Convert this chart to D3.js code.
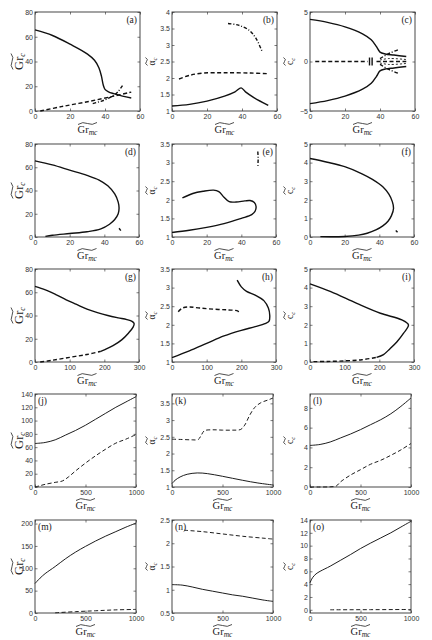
<!DOCTYPE html>
<html>
<head>
<meta charset="utf-8">
<title>stability panels</title>
<script src="https://d3js.org/d3.v7.min.js"></script>
<style>
  body { margin: 0; background: #fff; }
  .tick text { font-family: "Liberation Sans", Arial, sans-serif; font-size: 7px; fill: #333; }
</style>
</head>
<body>
<svg id="mainsvg" width="432" height="640"></svg>
<script>
// ---- data ----
const aSolid = [[0,65.5],[10,61],[20,54],[30,46],[34,41],[36.5,35],[38,28],[39,21],[40,17.5],[42,15.5],[45,14],[50,12],[55,10.5]];
const aDash = [[3,0],[15,3.5],[30,7.5],[45,12],[55,15.3]];
const aDashDot = [[33,6],[38,8],[43,11],[47,15],[50,20.5]];

const bSolid = [[0,1.15],[10,1.2],[20,1.3],[30,1.45],[36,1.58],[39.5,1.7],[42,1.58],[47,1.4],[55,1.17]];
const bDash = [[4,1.97],[10,2.08],[18,2.15],[30,2.16],[45,2.15],[55,2.13]];
const bDashDot = [[32,3.65],[38,3.6],[44,3.45],[48,3.2],[51.5,2.8]];

const cSolidUp = [[0,4.25],[10,3.95],[20,3.5],[30,2.8],[35,2.2],[38,1.5],[40,0.95],[43,0.76],[48,0.65],[55,0.5]];
const cSolidDn = cSolidUp.map(p => [p[0], -p[1]]);
const cDash = [[3,0],[33,0]];
const cDash2 = [[38,0],[55,0]];
const cDashUp = [[40,0.15],[45,0.3],[55,0.2]];
const cDashDn = cDashUp.map(p => [p[0], -p[1]]);
const cDotUp = [[40,0.3],[45,0.8],[50.5,1.2]];
const cDotDn = cDotUp.map(p => [p[0], -p[1]]);
const cMark1 = [[34,-0.4],[34,0.4]];
const cMark2 = [[35.5,-0.4],[35.5,0.4]];

const dSolid = [[0,65.5],[10,62],[20,57.5],[30,53],[37,49],[42,44],[46,37],[48,30],[48.5,25],[48,20],[46,15],[43,11],[38,7],[30,4.5],[20,3],[10,1.5],[6,0.5]];
const dMark = [[48.5,7.5],[49.5,5.5]];

const eSolid = [[6,2.05],[12,2.17],[18,2.23],[24,2.26],[27,2.22],[30,2.07],[33,1.95],[37,1.94],[42,1.97],[45,1.98],[47.5,1.93],[48.5,1.82],[48,1.7],[46,1.6],[40,1.5],[30,1.36],[20,1.26],[10,1.18],[0,1.12]];
const eMark = [[49.5,3.3],[49.7,3.1],[49.5,2.88]];

const fSolid = [[6,0.02],[20,0.03],[28,0.1],[33,0.2],[38,0.38],[42,0.6],[45,0.85],[47,1.15],[48.2,1.55],[47.5,1.9],[45.5,2.3],[42,2.7],[36,3.1],[30,3.4],[20,3.78],[10,4.02],[0,4.22]];
const fMark = [[49.5,0.35],[50.5,0.25]];

const gSolid = [[0,65],[30,62],[60,58],[90,53.5],[120,49.5],[150,45.5],[180,42.5],[210,40],[240,38],[265,36.5],[280,35],[286,33],[283,30],[270,25],[250,19],[225,14],[200,10.5],[188,9]];
const gDash = [[15,0],[50,1.5],[100,4],[150,6.5],[188,9]];

const hSolid = [[0,1.12],[50,1.3],[100,1.5],[150,1.7],[200,1.85],[240,1.95],[268,2.03],[280,2.1],[282,2.25],[278,2.45],[265,2.65],[240,2.8],[215,2.9],[200,3.02],[188,3.2]];
const hDash = [[18,2.35],[30,2.45],[50,2.48],[80,2.45],[120,2.42],[160,2.4],[190,2.37],[192,2.33]];

const iSolid = [[0,4.2],[60,3.78],[135,3.15],[203,2.62],[265,2.26],[284,1.99],[270,1.55],[251,1.09],[230,0.7],[212,0.4],[192,0.25]];
const iDash = [[10,0.02],[50,0.03],[100,0.06],[150,0.12],[192,0.25]];

const jSolid = [[0,65.5],[100,67],[200,71],[300,78],[400,85],[500,93],[600,102],[700,111],[800,120],[900,128],[1000,136]];
const jDash = [[0,0],[50,2],[100,4],[200,7],[270,9],[330,15],[400,24],[500,36],[600,47],[700,57],[800,66],[900,72],[1000,79]];

const kSolid = [[0,1.1],[30,1.2],[80,1.3],[150,1.38],[250,1.42],[350,1.4],[500,1.32],[700,1.2],[850,1.12],[1000,1.06]];
const kDash = [[0,2.43],[100,2.42],[200,2.41],[260,2.42],[290,2.55],[320,2.68],[400,2.71],[500,2.7],[600,2.7],[680,2.72],[720,2.85],[770,3.15],[820,3.38],[880,3.52],[950,3.6],[1000,3.66]];

const lSolid = [[0,4.2],[100,4.3],[200,4.55],[300,4.95],[400,5.35],[500,5.8],[600,6.3],[700,6.8],[800,7.4],[900,8.15],[1000,9.0]];
const lDash = [[0,0],[100,0],[200,0.02],[260,0.1],[300,0.5],[400,1.2],[500,1.75],[600,2.3],[700,2.7],[800,3.2],[900,3.75],[1000,4.4]];

const mSolid = [[0,66],[50,78],[100,88],[200,104],[300,121],[400,136],[500,149],[600,161],[700,172],[800,182],[900,192],[1000,201]];
const mDash = [[200,0.5],[400,3],[600,5],[800,7],[1000,8]];

const nSolid = [[0,1.11],[100,1.1],[200,1.06],[300,1.01],[400,0.97],[500,0.93],[600,0.89],[700,0.86],[800,0.82],[900,0.78],[1000,0.75]];
const nDash = [[120,2.28],[300,2.25],[500,2.2],[700,2.15],[900,2.11],[1000,2.09]];

const oSolid = [[0,4.2],[25,5.0],[60,5.6],[100,6.0],[200,6.8],[300,7.7],[400,8.6],[500,9.55],[600,10.4],[700,11.2],[800,12.0],[900,12.9],[1000,13.8]];
const oDash = [[200,0],[600,0.02],[1000,0.05]];

// tick values
const xTicks60 = [0,20,40,60];
const xTicks300 = [0,100,200,300];
const xTicks1000 = [0,500,1000];
const grTicks = [0,20,40,60,80];
const alphaTicks4 = [1,1.5,2,2.5,3,3.5,4];
const alphaTicks35 = [1,1.5,2,2.5,3,3.5];
const cTicks = [-5,0,5];
const cTicks5 = [0,1,2,3,4,5];
const jTicks = [0,20,40,60,80,100,120,140];
const lTicks = [0,2,4,6,8];
const mTicks = [0,50,100,150,200];
const nTicks = [0.5,1,1.5,2,2.5];
const oTicks = [0,2,4,6,8,10,12,14];

// ---- layout ----
const colLeft = [35, 172, 310];
const rowTop = [12, 144, 269, 394, 520];
const rowH = [99, 93, 93, 93, 93];
const rowW = [105, 104, 104, 101, 101];
const SERIF = '"Liberation Serif", "DejaVu Serif", "Times New Roman", serif';

const panels = [
  {id:'a', r:0, c:0, xd:[0,60], yd:[0,80], xt:xTicks60, yt:grTicks, yl:'Gr', s:[[aSolid,'s'],[aDash,'d'],[aDashDot,'dd']]},
  {id:'b', r:0, c:1, xd:[0,60], yd:[1,4], xt:xTicks60, yt:alphaTicks4, yl:'α', s:[[bSolid,'s'],[bDash,'d'],[bDashDot,'dd']]},
  {id:'c', r:0, c:2, xd:[0,60], yd:[-5,5], xt:xTicks60, yt:cTicks, yl:'c', s:[[cSolidUp,'s'],[cSolidDn,'s'],[cDash,'d'],[cDash2,'d'],[cDashUp,'dt'],[cDashDn,'dt'],[cDotUp,'dd'],[cDotDn,'dd'],[cMark1,'s'],[cMark2,'s']]},
  {id:'d', r:1, c:0, xd:[0,60], yd:[0,80], xt:xTicks60, yt:grTicks, yl:'Gr', s:[[dSolid,'s'],[dMark,'s']]},
  {id:'e', r:1, c:1, xd:[0,60], yd:[1,3.5], xt:xTicks60, yt:alphaTicks35, yl:'α', s:[[eSolid,'s'],[eMark,'dd']]},
  {id:'f', r:1, c:2, xd:[0,60], yd:[0,5], xt:xTicks60, yt:cTicks5, yl:'c', s:[[fSolid,'s'],[fMark,'s']]},
  {id:'g', r:2, c:0, xd:[0,300], yd:[0,80], xt:xTicks300, yt:grTicks, yl:'Gr', s:[[gSolid,'s'],[gDash,'d']]},
  {id:'h', r:2, c:1, xd:[0,300], yd:[1,3.5], xt:xTicks300, yt:alphaTicks35, yl:'α', s:[[hSolid,'s'],[hDash,'d']]},
  {id:'i', r:2, c:2, xd:[0,300], yd:[0,5], xt:xTicks300, yt:cTicks5, yl:'c', s:[[iSolid,'s'],[iDash,'d']]},
  {id:'j', r:3, c:0, xd:[0,1000], yd:[0,140], xt:xTicks1000, yt:jTicks, yl:'Gr', s:[[jSolid,'s'],[jDash,'d']]},
  {id:'k', r:3, c:1, xd:[0,1000], yd:[1,3.78], xt:xTicks1000, yt:alphaTicks35, yl:'α', s:[[kSolid,'s'],[kDash,'d']]},
  {id:'l', r:3, c:2, xd:[0,1000], yd:[0,9.4], xt:xTicks1000, yt:lTicks, yl:'c', s:[[lSolid,'s'],[lDash,'d']]},
  {id:'m', r:4, c:0, xd:[0,1000], yd:[0,208], xt:xTicks1000, yt:mTicks, yl:'Gr', s:[[mSolid,'s'],[mDash,'d']]},
  {id:'n', r:4, c:1, xd:[0,1000], yd:[0.5,2.5], xt:xTicks1000, yt:nTicks, yl:'α', s:[[nSolid,'s'],[nDash,'d']]},
  {id:'o', r:4, c:2, xd:[0,1000], yd:[-0.5,14], xt:xTicks1000, yt:oTicks, yl:'c', s:[[oSolid,'s'],[oDash,'d']]}
];

const svg = d3.select('#mainsvg');

function tilde(g, x, y, w) {
  g.append('path')
    .attr('d', `M${x - w/2},${y + 1} Q${x - w/4},${y - 2.2} ${x},${y} T${x + w/2},${y - 1}`)
    .attr('fill', 'none').attr('stroke', '#222').attr('stroke-width', 0.8);
}

panels.forEach(p => {
  const x0 = colLeft[p.c], y0 = rowTop[p.r];
  const w = rowW[p.r], h = rowH[p.r];
  const thick = p.r < 3 ? 1.4 : 0.95;

  const x = d3.scaleLinear().domain(p.xd).range([0, w]);
  const y = d3.scaleLinear().domain(p.yd).range([h, 0]);
  const g = svg.append('g').attr('transform', `translate(${x0},${y0})`);

  // axes: ticks point inward on all four sides
  g.append('g').attr('transform', `translate(0,${h})`)
    .call(d3.axisBottom(x).tickValues(p.xt).tickSize(-2.5).tickSizeOuter(0).tickPadding(3).tickFormat(d3.format('')));
  g.append('g').call(d3.axisTop(x).tickValues(p.xt).tickSize(-2.5).tickSizeOuter(0).tickFormat(''));
  g.append('g')
    .call(d3.axisLeft(y).tickValues(p.yt).tickSize(-2.5).tickSizeOuter(0).tickPadding(2).tickFormat(d3.format('')));
  g.append('g').attr('transform', `translate(${w},0)`)
    .call(d3.axisRight(y).tickValues(p.yt).tickSize(-2.5).tickSizeOuter(0).tickFormat(''));
  g.selectAll('.domain').remove();
  g.selectAll('.tick line').attr('stroke', '#444').attr('stroke-width', 0.7);
  g.selectAll('.tick text').attr('font-size', 7);

  g.append('rect').attr('width', w).attr('height', h)
    .attr('fill', 'none').attr('stroke', '#333').attr('stroke-width', 0.9);

  const line = d3.line().x(d => x(d[0])).y(d => y(d[1])).curve(d3.curveCatmullRom.alpha(0.5));
  const dashes = { d: '4,2.5', dd: '3.5,1.8,1,1.8', dt: '2,2' };
  p.s.forEach(([pts, st]) => {
    g.append('path').datum(pts).attr('d', line)
      .attr('fill', 'none').attr('stroke', '#111')
      .attr('stroke-width', st === 'dt' ? 0.9 : thick)
      .attr('stroke-dasharray', dashes[st] || null);
  });

  // panel tag
  const tag = g.append('text').attr('font-family', SERIF).attr('fill', '#222')
    .attr('font-size', 9.5).text(`(${p.id})`);
  if (p.r < 3) tag.attr('x', w - 3).attr('y', 11).attr('text-anchor', 'end');
  else tag.attr('x', 3).attr('y', 10);

  // x label
  const xl = g.append('text').attr('font-family', SERIF).attr('fill', '#222')
    .attr('x', w / 2).attr('y', h + 22).attr('text-anchor', 'middle');
  xl.append('tspan').attr('font-size', 10.5).text('Gr');
  xl.append('tspan').attr('font-size', 7.5).attr('font-style', 'italic').attr('dy', 1.5).text('mc');
  tilde(g, w / 2, h + 12.5, 19);

  // y label (rotated)
  const big = p.yl === 'Gr';
  const lx = big ? -16 : -20;
  const yg = g.append('g').attr('transform', `translate(${lx},${h / 2}) rotate(-90)`);
  const yt = yg.append('text').attr('font-family', SERIF).attr('fill', '#222')
    .attr('text-anchor', 'middle').attr('y', big ? 4 : 3);
  yt.append('tspan').attr('font-size', big ? 12.5 : 9.5).text(p.yl);
  yt.append('tspan').attr('font-size', big ? 8 : 6.5).attr('font-style', 'italic').attr('dy', 1.5).text('c');
  tilde(yg, 0, big ? -7 : -5.5, big ? 16 : 8);
});
</script>
</body>
</html>
